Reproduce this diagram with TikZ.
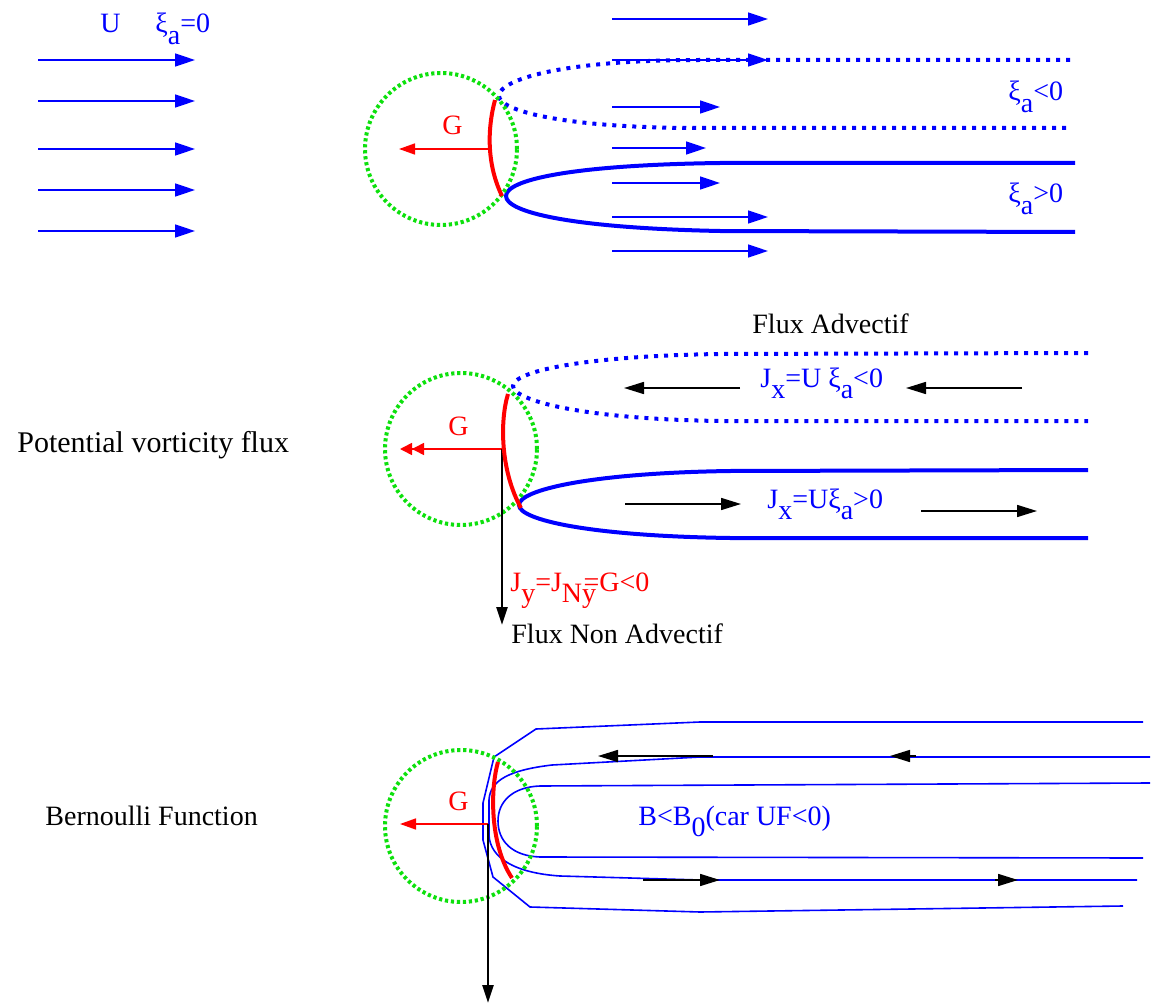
\documentclass[tikz,border=0pt]{standalone}
\usepackage{fontspec}
\setmainfont{Liberation Serif}
\usetikzlibrary{arrows.meta}
\newcommand\lowsub[1]{\raisebox{-0.42em}{#1}}
\definecolor{figblue}{rgb}{0,0,1}
\definecolor{figgreen}{rgb}{0.05,0.88,0.05}
\definecolor{figred}{rgb}{1,0,0}
\begin{document}
\begin{tikzpicture}[x=0.5pt,y=-0.5pt,
  lbl/.style={font=\fontsize{14}{16}\selectfont, inner sep=0pt, anchor=base west},
  flow/.style={draw=figblue, line width=0.8pt, -{Triangle[length=10pt,width=6.5pt]}},
  dotline/.style={draw=figblue, line width=2pt, dash pattern=on 2pt off 3pt},
  solidline/.style={draw=figblue, line width=2pt},
  thinblue/.style={draw=figblue, line width=0.8pt},
  greencirc/.style={draw=figgreen, line width=2pt, dash pattern=on 1.6pt off 1.4pt},
  redarc/.style={draw=figred, line width=2pt},
  redarrow/.style={draw=figred, line width=0.8pt, -{Triangle[length=8pt,width=5.5pt]}},
  reddouble/.style={draw=figred, line width=0.8pt, -{Triangle[length=6pt,width=6pt]Triangle[length=6pt,width=6pt]}},
  blkarrow/.style={draw=black, line width=0.8pt, -{Triangle[length=10pt,width=6pt]}},
  vflux/.style={draw=black, line width=1.3pt, -{Triangle[length=9pt,width=5.5pt]}}
]
\useasboundingbox (0,0) rectangle (1163,1006);

% ---------------- top panel ----------------
\node[lbl, text=figblue] (U) at (100,33) {U};
\node[lbl, text=figblue] (xi0) at (155,33) {ξ\lowsub{a}=0};
\foreach \y in {60,101,149,190,231} \draw[flow] (38,\y) -- (195,\y);

\foreach \y/\e in {19/768,60/768,107/720,148/706,183/720,217/768,251/768}
  \draw[flow] (612,\y) -- (\e,\y);

\draw[dotline] (1070,60) -- (700,60) .. controls (560,60) and (499,80) .. (499,96)
  .. controls (499,110) and (560,128) .. (700,128) -- (1070,128);
\draw[solidline] (1075,163) -- (720,163) .. controls (570,165) and (506,180) .. (506,196)
  .. controls (506,212) and (570,228) .. (720,231) -- (1075,232);

\draw[greencirc] (441,149) circle[radius=38pt];
\coordinate (g1s) at (489,149);
\coordinate (g1e) at (399,149);
\draw[redarrow] (g1s) -- (g1e);
\draw[redarc] (495,100) .. controls (487,130) and (487,165) .. (502,196);
\node[lbl, text=figred] (G1) at (442,135) {G};

\node[lbl, text=figblue] (xineg) at (1008,101) {ξ\lowsub{a}<0};
\node[lbl, text=figblue] (xipos) at (1008,203) {ξ\lowsub{a}>0};

% ---------------- middle panel ----------------
\node[lbl, font=\fontsize{15}{17}\selectfont] (pvf) at (17,452) {Potential vorticity flux};
\node[lbl] (fadv) at (752,333) {Flux Advectif};

\draw[dotline] (1088,353) -- (720,354) .. controls (580,356) and (513,372) .. (513,386)
  .. controls (513,400) and (580,419) .. (720,421) -- (1088,421);
\draw[solidline] (1088,470) -- (730,471) .. controls (590,473) and (519,490) .. (519,505)
  .. controls (519,520) and (590,536) .. (730,538) -- (1088,538);

\draw[greencirc] (461,449) circle[radius=38pt];
\coordinate (g2s) at (502,449);
\coordinate (g2e) at (400,449);
\coordinate (jy) at (502,625);
\draw[reddouble] (g2s) -- (g2e);
\draw[vflux] (g2s) -- (jy);
\draw[redarc] (508,394) .. controls (500,420) and (500,470) .. (521,508);
\node[lbl, text=figred] (G2) at (448,435) {G};

\draw[blkarrow] (740,388) -- (624,388);
\draw[blkarrow] (1022,388) -- (906,388);
\draw[blkarrow] (625,504) -- (741,504);
\draw[blkarrow] (921,511) -- (1037,511);
\node[lbl, text=figblue] (jxneg) at (760,387) {J\lowsub{x}=U ξ\lowsub{a}<0};
\node[lbl, text=figblue] (jxpos) at (767,508) {J\lowsub{x}=Uξ\lowsub{a}>0};

\node[lbl, text=figred] (jyl) at (510,591) {J\lowsub{y}=J\lowsub{Ny}\kern-0.45em=G<0};
\node[lbl] (fnadv) at (511,643) {Flux Non Advectif};

% ---------------- bottom panel ----------------
\node[lbl] (bern) at (45,825) {Bernoulli Function};

\draw[thinblue] (1143,722) -- (700,722) -- (536,729) -- (494,757) -- (483,803) -- (483,840)
  -- (493,877) -- (530,907) -- (700,912) -- (1123,906);
\draw[thinblue] (1150,757) -- (700,757) -- (552,765) .. controls (510,770) and (490,780) .. (489,800)
  -- (489,835) .. controls (490,858) and (515,873) .. (560,876) -- (700,880) -- (1137,880);
\draw[thinblue] (1150,783) -- (540,786) .. controls (512,787) and (498,802) .. (498,821)
  .. controls (498,841) and (512,856) .. (540,857) -- (1143,858);

\draw[blkarrow] (713,756) -- (598,756);
\draw[blkarrow] (916,756) -- (890,756);
\draw[blkarrow] (643,880) -- (720,880);
\draw[blkarrow] (995,880) -- (1018,880);

\draw[greencirc] (461,826) circle[radius=38pt];
\coordinate (g3s) at (488,824);
\coordinate (g3e) at (400,824);
\coordinate (vb) at (488,1003);
\draw[redarrow] (g3s) -- (g3e);
\draw[vflux] (g3s) -- (vb);
\draw[redarc] (498,762) .. controls (490,790) and (490,845) .. (512,878);
\node[lbl, text=figred] (G3) at (448,810) {G};

\node[lbl, text=figblue] (bl) at (638,825) {B<B\lowsub{0}(car UF<0)};
\end{tikzpicture}
\end{document}
